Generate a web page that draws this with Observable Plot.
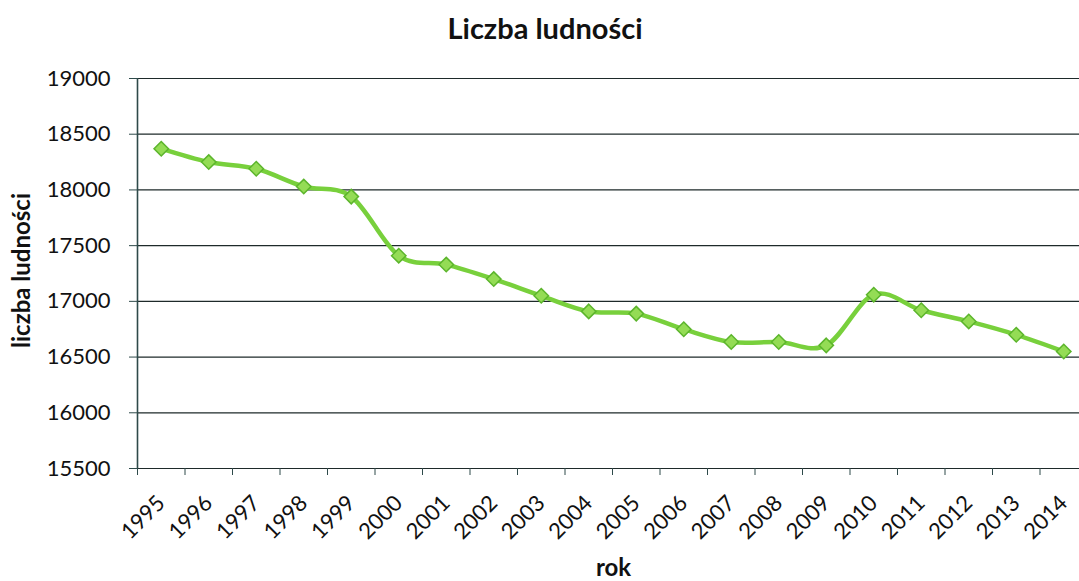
<!DOCTYPE html>
<html>
<head>
<meta charset="utf-8">
<script src="https://cdn.jsdelivr.net/npm/d3@7"></script>
<script src="https://cdn.jsdelivr.net/npm/@observablehq/plot@0.6"></script>
<style>
  html, body { margin: 0; padding: 0; background: #fff; }
  #wrap { position: relative; width: 1079px; height: 581px; overflow: hidden; font-family: Lato, "Open Sans", sans-serif; background: #fff; }
  #title { position: relative; height: 50px; }
  #title span { position: absolute; left: 0; top: 11px; width: 1079px; padding-left: 11px; box-sizing: border-box; text-align: center; font-size: 29px; line-height: 34px; font-weight: bold; color: #111; }
  #chart svg { display: block; }
</style>
</head>
<body>
<div id="wrap">
  <div id="title"><span>Liczba ludności</span></div>
  <div id="chart"></div>
</div>
<script>
const years = [1995, 1996, 1997, 1998, 1999, 2000, 2001, 2002, 2003, 2004,
               2005, 2006, 2007, 2008, 2009, 2010, 2011, 2012, 2013, 2014];
const population = [18370, 18250, 18190, 18030, 17940, 17410, 17330, 17200, 17050, 16910,
                    16890, 16750, 16635, 16635, 16605, 17060, 16920, 16820, 16700, 16550];
const yTicks = [15500, 16000, 16500, 17000, 17500, 18000, 18500, 19000];
const yTitle = "liczba ludności";
const xTitle = "rok";

const data = years.map((year, i) => ({year, value: population[i]}));
const boundaries = years.map(y => y - 0.5);

const chart = Plot.plot({
  width: 1079,
  height: 531,
  marginTop: 28,
  marginBottom: 113,
  marginLeft: 137,
  marginRight: 0,
  x: {domain: [years[0] - 0.5, years[years.length - 1] + 0.5], range: [137, 1087]},
  y: {domain: [yTicks[0], yTicks[yTicks.length - 1]]},
  style: {fontFamily: "Lato, 'Open Sans', sans-serif", background: "white", color: "#111"},
  marks: [
    Plot.ruleY(yTicks, {y: d => d, stroke: "#1e2a2a", strokeWidth: 1.2}),
    Plot.ruleX([boundaries[0]], {x: d => d, stroke: "#2e4a4a", strokeWidth: 1.6}),
    Plot.axisY({ticks: yTicks, tickSize: 8, tickPadding: 19, tickFormat: "d", fontSize: 22, label: null, stroke: "#2e4a4a", fill: "#111"}),
    Plot.axisX({ticks: boundaries, tickSize: 7, tickFormat: () => "", label: null, fill: "none", stroke: "#2e4a4a"}),
    Plot.text(years, {x: d => d, text: d => String(d), frameAnchor: "bottom", dy: 31, rotate: -45,
                      textAnchor: "end", lineAnchor: "middle", fontSize: 22, fill: "#111"}),
    Plot.line(data, {x: "year", y: "value", curve: "cardinal", tension: 0, stroke: "#78d03c", strokeWidth: 4.5}),
    Plot.dot(data, {x: "year", y: "value", symbol: "diamond2", r: 6.5, fill: "#94dc55", stroke: "#5cb52c", strokeWidth: 1.5}),
    Plot.text([yTitle], {text: d => d, frameAnchor: "left", dx: -115, dy: -3, rotate: -90,
                         textAnchor: "middle", lineAnchor: "middle", fontSize: 24, fontWeight: "bold", fill: "#111"}),
    Plot.text([xTitle], {text: d => d, frameAnchor: "bottom", dx: 5, dy: 100,
                         textAnchor: "middle", lineAnchor: "middle", fontSize: 24, fontWeight: "bold", fill: "#111"})
  ]
});
document.getElementById("chart").appendChild(chart);
</script>
</body>
</html>
